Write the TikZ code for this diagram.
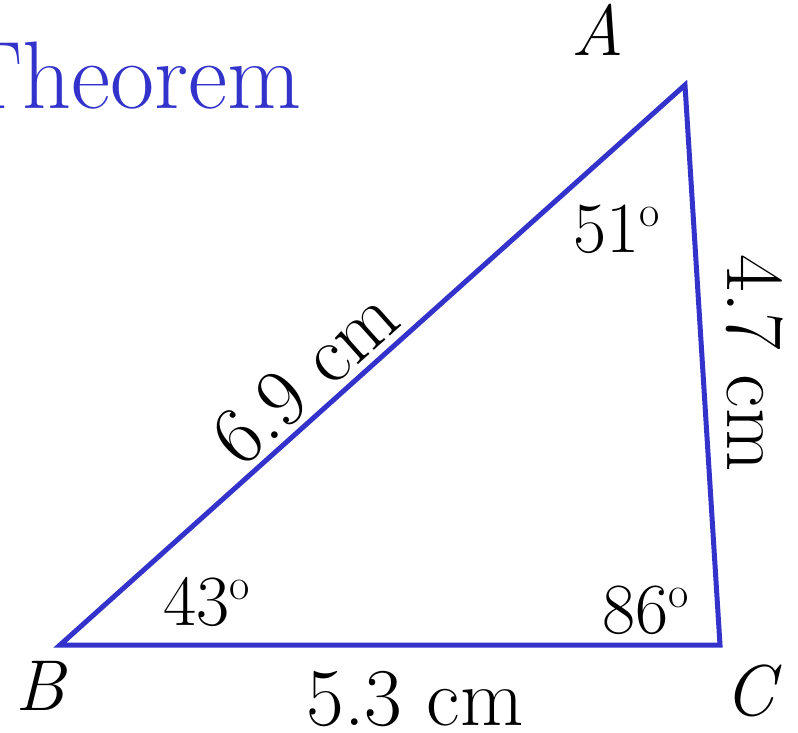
\documentclass[tikz,border=0pt]{standalone}
\usepackage{fontspec}
\definecolor{theoblue}{RGB}{51,51,204}
\newcommand{\dego}{\raisebox{0.36em}{\fontsize{44}{44}\selectfont o}}

\begin{document}
\begin{tikzpicture}[x=1pt, y=-1pt]

        % ==== FRAME ====
        \useasboundingbox (0,0) rectangle (798,732);

        % ==== TITLE ====
        \node[anchor=base east, inner sep=0pt, theoblue, font=\fontsize{96}{100}\selectfont] (title) at (302,108) {Theorem};

        % ==== TRIANGLE ====
        \coordinate (A) at (685,85);
        \coordinate (B) at (60,645);
        \coordinate (C) at (720,645);
        \draw[theoblue, line width=5pt, line join=miter] (A) -- (B) -- (C) -- cycle;

        % ==== VERTEX NAMES ====
        \node[anchor=base, inner sep=0pt, font=\fontsize{72}{80}\selectfont\itshape] (labA) at (598,55) {A};
        \node[anchor=base, inner sep=0pt, font=\fontsize{72}{80}\selectfont\itshape] (labB) at (40,710) {B};
        \node[anchor=base, inner sep=0pt, font=\fontsize{72}{80}\selectfont\itshape] (labC) at (750,715) {C};

        % ==== ANGLES ====
        \node[anchor=base west, inner sep=0pt, font=\fontsize{72}{80}\selectfont] (angA) at (573,252) {51\dego};
        \node[anchor=base west, inner sep=0pt, font=\fontsize{72}{80}\selectfont] (angB) at (163,625) {43\dego};
        \node[anchor=base west, inner sep=0pt, font=\fontsize{72}{80}\selectfont] (angC) at (602,633) {86\dego};

        % ==== SIDES ====
        \node[anchor=base, inner sep=0pt, font=\fontsize{82}{90}\selectfont] (sideBC) at (415,725) {5.3 cm};
        \node[rotate=-90, inner sep=0pt, font=\fontsize{82}{90}\selectfont] (sideAC) at (755,363) {4.7 cm};
        \node[rotate=41.9, inner sep=0pt, font=\fontsize{82}{90}\selectfont] (sideAB) at (305,377) {6.9 cm};

    \end{tikzpicture}
\end{document}
